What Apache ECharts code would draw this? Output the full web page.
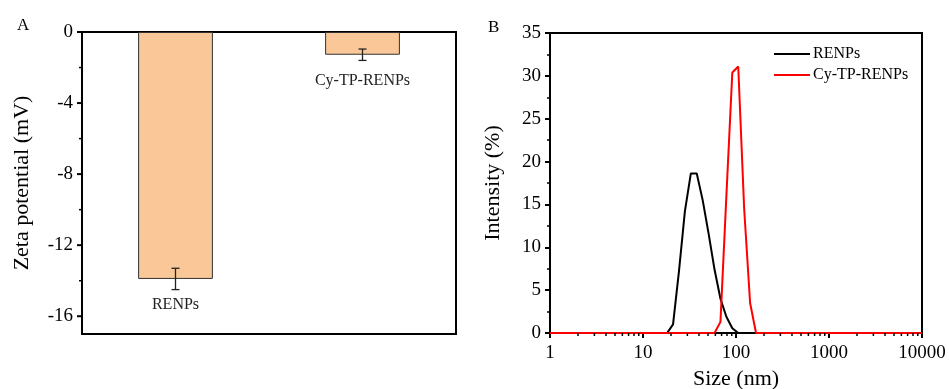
<!DOCTYPE html>
<html><head><meta charset="utf-8">
<script src="https://cdn.jsdelivr.net/npm/echarts@6/dist/echarts.min.js"></script>
<style>html,body{margin:0;padding:0;background:#fff}#c{width:949px;height:389px}</style>
</head><body><div id="c"></div>
<script>
// Panel A data
const catsA = ['RENPs', 'Cy-TP-RENPs'];
const zeta = [-13.9, -1.28];
const zetaErr = [0.6, 0.32];
const yTicksA = [0, -4, -8, -12, -16];
const yMinorA = [-2, -6, -10, -14];
// Panel B data
const sizes = [1, 15.69, 18.17, 21.04, 24.36, 28.21, 32.67, 37.84, 43.82, 50.75, 58.77, 68.06, 78.82, 91.28, 105.7, 122.4, 141.8, 164.2, 190.1, 10000];
const renps = [0, 0, 0, 1.0, 7.2, 14.2, 18.6, 18.6, 15.5, 11.6, 7.4, 4.0, 1.9, 0.55, 0, 0, 0, 0, 0, 0];
const cyTP  = [0, 0, 0, 0, 0, 0, 0, 0, 0, 0, 0, 1.3, 16.0, 30.4, 31.1, 14.5, 3.5, 0, 0, 0];
const xMinorB = [2,3,4,5,6,7,8,9,20,30,40,50,60,70,80,90,200,300,400,500,600,700,800,900,2000,3000,4000,5000,6000,7000,8000,9000];

const FONT = 'Liberation Serif';
const ax = {color: '#000', width: 2};

function yTickSeries(values, len, width) {
  return {type: 'custom', xAxisIndex: 0, yAxisIndex: 0, silent: true, clip: false, z: 10,
    data: values.map(v => [0, v]),
    renderItem: function (params, api) {
      const cs = params.coordSys;
      const y = api.coord([0, api.value(1)])[1];
      return {type: 'line', shape: {x1: cs.x - len, y1: y, x2: cs.x, y2: y},
              style: {stroke: '#000', lineWidth: width}};
    }};
}
function xTickSeries(values, len, width) {
  return {type: 'custom', xAxisIndex: 1, yAxisIndex: 1, silent: true, clip: false, z: 10,
    data: values.map(v => [v, 0]),
    renderItem: function (params, api) {
      const cs = params.coordSys;
      const x = api.coord([api.value(0), 1])[0];
      const yb = cs.y + cs.height;
      return {type: 'line', shape: {x1: x, y1: yb, x2: x, y2: yb + len},
              style: {stroke: '#000', lineWidth: width}};
    }};
}

const chart = echarts.init(document.getElementById('c'), null, {renderer: 'canvas'});
chart.setOption({
  animation: false,
  textStyle: {fontFamily: FONT},
  title: [
    {text: 'A', left: 12, top: 12, textStyle: {fontFamily: FONT, fontWeight: 'normal', fontSize: 17, color: '#000'}},
    {text: 'B', left: 483, top: 14, textStyle: {fontFamily: FONT, fontWeight: 'normal', fontSize: 17, color: '#000'}}
  ],
  legend: {
    data: [{name: 'RENPs', icon: 'rect'}, {name: 'Cy-TP-RENPs', icon: 'rect'}],
    orient: 'vertical', left: 774, top: 46, padding: 0,
    itemWidth: 36, itemHeight: 2, itemGap: 5,
    textStyle: {fontFamily: FONT, fontSize: 16, color: '#000', padding: [0, 0, 0, -2]}
  },
  grid: [
    {left: 82, right: 493, top: 32, bottom: 55, show: true, borderColor: '#000', borderWidth: 2,
     outerBoundsMode: 'none', containLabel: false},
    {left: 550, right: 27, top: 33, bottom: 56, show: true, borderColor: '#000', borderWidth: 2,
     outerBoundsMode: 'none', containLabel: false}
  ],
  xAxis: [
    {gridIndex: 0, type: 'category', data: catsA, position: 'bottom',
     axisLine: {onZero: false, lineStyle: ax}, axisTick: {show: false}, axisLabel: {show: false}},
    {gridIndex: 1, type: 'log', logBase: 10, min: 1, max: 10000, position: 'bottom',
     name: 'Size (nm)', nameLocation: 'middle', nameGap: 34,
     nameTextStyle: {fontFamily: FONT, fontSize: 22, color: '#000'},
     axisLine: {lineStyle: ax}, splitLine: {show: false},
     axisTick: {show: true, length: 5, lineStyle: {color: '#000', width: 2}},
     axisLabel: {margin: 11, fontFamily: FONT, fontSize: 19, color: '#000',
                 formatter: v => String(Math.round(v))}}
  ],
  yAxis: [
    {gridIndex: 0, type: 'value', min: -17, max: 0,
     name: 'Zeta potential (mV)', nameLocation: 'middle', nameGap: 49,
     nameTextStyle: {fontFamily: FONT, fontSize: 22, color: '#000'},
     axisLine: {lineStyle: ax}, splitLine: {show: false},
     axisTick: {show: false},
     axisLabel: {customValues: yTicksA, margin: 9, fontFamily: FONT, fontSize: 19, color: '#000'}},
    {gridIndex: 1, type: 'value', min: 0, max: 35, interval: 5,
     name: 'Intensity (%)', nameLocation: 'middle', nameGap: 46,
     nameTextStyle: {fontFamily: FONT, fontSize: 22, color: '#000'},
     axisLine: {lineStyle: ax}, splitLine: {show: false},
     axisTick: {length: 5, lineStyle: {color: '#000', width: 2}},
     minorTick: {show: true, splitNumber: 2, length: 3, lineStyle: {color: '#000', width: 1.5}},
     minorSplitLine: {show: false},
     axisLabel: {margin: 9, fontFamily: FONT, fontSize: 19, color: '#000'}}
  ],
  series: [
    {type: 'bar', xAxisIndex: 0, yAxisIndex: 0, data: zeta, barWidth: '40%',
     itemStyle: {color: '#FAC898', borderColor: '#333', borderWidth: 1},
     label: {show: true, position: 'bottom', distance: 18, formatter: p => p.name,
             fontFamily: FONT, fontSize: 16, color: '#222'}},
    {type: 'custom', xAxisIndex: 0, yAxisIndex: 0,
     data: zeta.map((v, i) => [i, v, zetaErr[i]]),
     renderItem: function (params, api) {
       const i = api.value(0), v = api.value(1), e = api.value(2);
       const hi = api.coord([i, v + e]), lo = api.coord([i, v - e]);
       const w = 4;
       const st = {stroke: '#222', lineWidth: 1.3};
       return {type: 'group', children: [
         {type: 'line', shape: {x1: hi[0], y1: hi[1], x2: lo[0], y2: lo[1]}, style: st},
         {type: 'line', shape: {x1: hi[0] - w, y1: hi[1], x2: hi[0] + w, y2: hi[1]}, style: st},
         {type: 'line', shape: {x1: lo[0] - w, y1: lo[1], x2: lo[0] + w, y2: lo[1]}, style: st}
       ]};
     }, z: 5},
    yTickSeries(yTicksA, 5, 2),
    yTickSeries(yMinorA, 3, 1.5),
    xTickSeries(xMinorB, 3, 1.5),
    {name: 'RENPs', type: 'line', xAxisIndex: 1, yAxisIndex: 1,
     data: sizes.map((s, i) => [s, renps[i]]), symbol: 'none',
     lineStyle: {color: '#000', width: 2}, itemStyle: {color: '#000'}},
    {name: 'Cy-TP-RENPs', type: 'line', xAxisIndex: 1, yAxisIndex: 1,
     data: sizes.map((s, i) => [s, cyTP[i]]), symbol: 'none',
     lineStyle: {color: '#FF0000', width: 2}, itemStyle: {color: '#FF0000'}}
  ]
});
</script></body></html>
